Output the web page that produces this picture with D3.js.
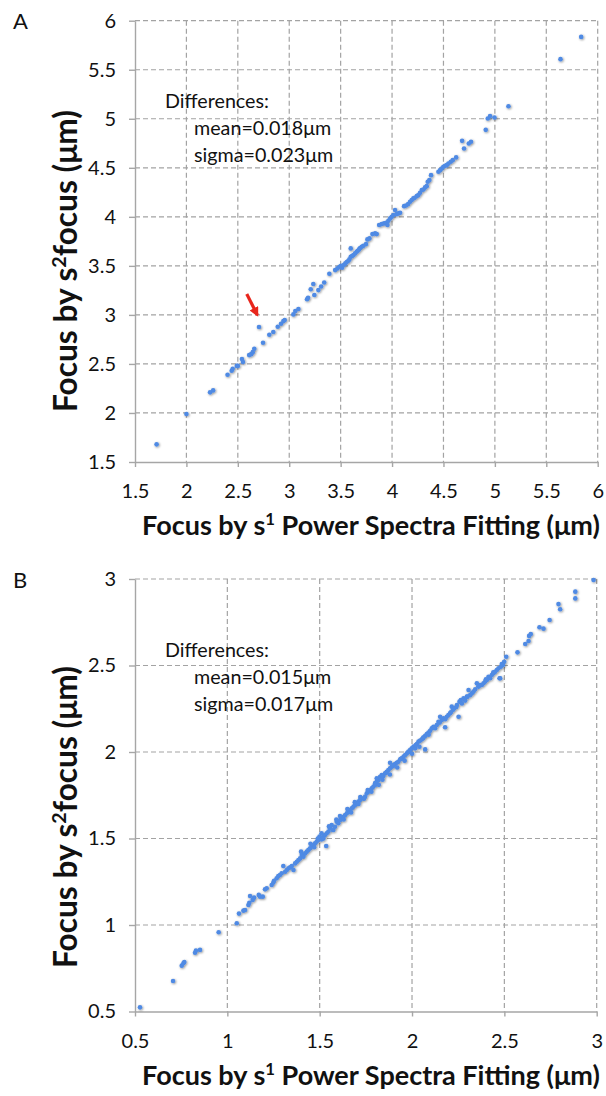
<!DOCTYPE html>
<html>
<head>
<meta charset="utf-8">
<script src="https://cdn.jsdelivr.net/npm/d3@7"></script>
<style>
  body { margin: 0; background: #fff; }
  svg { display: block; font-family: Lato, "Open Sans", sans-serif; }
</style>
</head>
<body>
<svg id="chart" width="606" height="1096"></svg>
<script>
// tick values
const ticksA = [1.5, 2, 2.5, 3, 3.5, 4, 4.5, 5, 5.5, 6];
const ticksB = [0.5, 1, 1.5, 2, 2.5, 3];

// annotation text
const notesA = ["Differences:", "mean=0.018\u03bcm", "sigma=0.023\u03bcm"];
const notesB = ["Differences:", "mean=0.015\u03bcm", "sigma=0.017\u03bcm"];

// panel A: [s1 fit, s2focus]
const pointsA = [
  [1.71,1.68],[2.00,1.99],[2.23,2.21],[2.26,2.23],[2.40,2.39],[2.44,2.43],[2.45,2.45],[2.49,2.48],
  [2.50,2.48],[2.54,2.55],[2.55,2.52],[2.61,2.59],[2.63,2.60],[2.645,2.62],[2.66,2.655],[2.706,2.876],
  [2.745,2.716],[2.806,2.798],[2.845,2.825],[2.888,2.879],[2.92,2.91],[2.943,2.937],[2.956,2.947],
  [3.04,3.005],[3.059,3.039],[3.089,3.06],[3.173,3.159],[3.183,3.175],[3.209,3.261],[3.234,3.315],
  [3.244,3.203],[3.283,3.253],[3.31,3.29],[3.34,3.33],
  [3.390,3.420],[3.446,3.457],[3.468,3.474],[3.488,3.491],[3.504,3.501],[3.514,3.481],[3.533,3.511],
  [3.546,3.525],[3.559,3.539],[3.575,3.552],[3.585,3.566],[3.598,3.678],[3.598,3.593],[3.611,3.600],
  [3.624,3.610],[3.640,3.627],[3.656,3.644],[3.666,3.654],[3.679,3.668],[3.689,3.681],[3.705,3.695],
  [3.721,3.705],[3.747,3.722],[3.760,3.770],[3.780,3.780],[3.809,3.824],[3.835,3.831],[3.851,3.824],
  [3.874,3.916],[3.899,3.926],[3.922,3.933],[3.942,3.940],[3.955,3.916],[3.964,3.960],[3.981,3.984],
  [3.997,4.001],[4.013,4.018],[4.029,4.069],[4.045,4.028],[4.062,4.035],[4.078,4.042],[4.117,4.109],
  [4.136,4.116],[4.156,4.130],[4.175,4.154],[4.191,4.171],[4.207,4.188],[4.220,4.194],[4.240,4.211],
  [4.256,4.222],[4.272,4.245],[4.289,4.273],[4.305,4.279],[4.321,4.300],[4.337,4.313],[4.347,4.358],
  [4.363,4.375],[4.379,4.425],[4.451,4.459],[4.467,4.476],[4.483,4.493],[4.499,4.510],[4.516,4.521],
  [4.532,4.527],[4.548,4.544],[4.571,4.561],[4.590,4.578],[4.623,4.606],[4.681,4.775],[4.700,4.697],
  [4.746,4.748],[4.768,4.765],
  [4.911,4.887],[4.931,5.003],[4.953,5.027],[4.996,5.013],[5.132,5.128],[5.638,5.608],[5.839,5.835]
];

// panel B: [s1 fit, s2focus]
const pointsB = [
  [0.527,0.524],[0.706,0.676],[0.753,0.765],[0.762,0.779],[0.767,0.786],[0.825,0.840],[0.830,0.852],
  [0.852,0.856],[0.953,0.958],[1.051,1.010],[1.063,1.066],[1.087,1.083],[1.096,1.087],[1.114,1.116],
  [1.119,1.129],[1.123,1.168],[1.137,1.145],[1.145,1.158],[1.170,1.174],[1.177,1.164],[1.192,1.164],
  [1.204,1.206],[1.213,1.212],[1.240,1.231],[1.249,1.245],[1.253,1.256],[1.267,1.270],[1.276,1.283],
  [1.285,1.289],[1.294,1.299],[1.303,1.341],[1.313,1.308],[1.322,1.318],[1.331,1.328],[1.340,1.333],
  [1.358,1.318],[1.349,1.341],[1.367,1.356],[1.376,1.366],[1.385,1.376],[1.394,1.385],[1.399,1.424],
  [1.403,1.405],[1.412,1.395],[1.421,1.414],[1.430,1.424],[1.439,1.434],[1.448,1.443],[1.457,1.457],
  [1.466,1.462],[1.475,1.472],[1.484,1.482],[1.493,1.491],[1.499,1.511],[1.511,1.495],[1.520,1.511],
  [1.529,1.520],[1.535,1.457],[1.538,1.530],[1.547,1.540],[1.556,1.559],[1.565,1.578],[1.574,1.549],
  [1.583,1.568],[1.592,1.597],[1.601,1.588],[1.611,1.607],[1.620,1.617],[1.629,1.626],[1.638,1.636],
  [1.647,1.646],[1.656,1.665],[1.665,1.655],[1.674,1.674],[1.683,1.684],[1.692,1.694],[1.701,1.703],
  [1.710,1.713],[1.719,1.723],[1.737,1.732],[1.746,1.742],[1.755,1.761],[1.764,1.771],[1.773,1.780],
  [1.782,1.790],[1.791,1.800],[1.800,1.809],[1.809,1.829],[1.818,1.838],
  [1.809,1.848],[1.827,1.857],[1.836,1.867],[1.845,1.861],[1.854,1.877],[1.863,1.886],[1.872,1.896],
  [1.881,1.906],[1.881,1.938],[1.890,1.915],[1.899,1.925],[1.908,1.931],[1.917,1.938],[1.926,1.944],
  [1.936,1.958],[1.945,1.963],[1.954,1.973],[1.963,1.983],[1.972,1.992],[1.981,2.002],[1.990,2.012],
  [1.999,2.021],[2.008,2.031],[2.017,2.021],[2.026,2.046],[2.035,2.060],[2.044,2.066],[2.053,2.073],
  [2.062,2.085],[2.071,2.015],[2.071,2.093],[2.080,2.104],[2.089,2.112],[2.098,2.123],[2.107,2.137],
  [2.116,2.146],[2.125,2.137],[2.134,2.156],[2.143,2.175],[2.152,2.204],[2.161,2.185],[2.170,2.195],
  [2.179,2.143],[2.188,2.204],[2.197,2.214],[2.206,2.224],[2.215,2.262],[2.221,2.243],[2.228,2.252],
  [2.243,2.272],[2.252,2.204],[2.257,2.291],[2.264,2.301],[2.270,2.281],[2.279,2.310],[2.288,2.297],
  [2.297,2.320],[2.306,2.358],[2.315,2.329],[2.324,2.339],[2.333,2.349],[2.342,2.362],[2.351,2.397],
  [2.360,2.378],[2.369,2.387],[2.378,2.387],[2.387,2.397],[2.396,2.407],[2.405,2.416],[2.414,2.435],
  [2.423,2.426],[2.432,2.445],[2.441,2.455],[2.450,2.464],[2.459,2.474],[2.468,2.484],[2.477,2.426],
  [2.481,2.493],[2.492,2.503],[2.499,2.522],[2.510,2.551],[2.486,2.509],[2.474,2.426],
  [2.571,2.576],[2.613,2.624],[2.631,2.642],[2.634,2.671],[2.643,2.682],[2.690,2.721],[2.712,2.713],
  [2.745,2.763],[2.793,2.855],[2.802,2.825],[2.884,2.888],[2.884,2.927],[2.983,2.994],
  [1.45,1.47],[1.47,1.45],[1.49,1.50],[1.51,1.53],[1.52,1.50],[1.55,1.57],[1.57,1.55],[1.59,1.61],
  [1.61,1.63],[1.63,1.61],[1.65,1.67],[1.67,1.65],[1.69,1.71],[1.71,1.70],[1.72,1.74],[1.74,1.73],
  [1.76,1.78],[1.78,1.77],[1.80,1.82],[1.82,1.81],[1.84,1.84],[1.86,1.88],[1.88,1.87],[1.90,1.92],
  [1.92,1.91],[1.94,1.96],[1.96,1.95],[1.98,2.00],[2.00,1.99],[2.02,2.04],[2.04,2.03],[2.06,2.08],
  [2.09,2.10],[2.12,2.14],[2.15,2.17],[2.18,2.19],[2.21,2.23],[2.24,2.26],[2.30,2.32],[2.36,2.38],
  [2.40,2.42],[2.44,2.46]
];

// red arrow in panel A, data coords: tail then tip
const arrowA = [[2.587, 3.213], [2.690, 2.998]];

const svg = d3.select("#chart");

const defs = svg.append("defs");
const shadow = defs.append("filter").attr("id", "shadow")
  .attr("x", "-50%").attr("y", "-50%").attr("width", "200%").attr("height", "200%");
shadow.append("feDropShadow")
  .attr("dx", 0.8).attr("dy", 0.8).attr("stdDeviation", 1.1)
  .attr("flood-color", "#000").attr("flood-opacity", 0.45);

defs.append("marker")
  .attr("id", "head")
  .attr("viewBox", "0 0 10 10")
  .attr("refX", 8).attr("refY", 5)
  .attr("markerWidth", 3).attr("markerHeight", 3)
  .attr("markerUnits", "strokeWidth")
  .attr("orient", "auto")
  .append("path")
  .attr("d", "M0,0 L10,5 L0,10 z")
  .attr("fill", "#e8261c");

// scale font so text spans a given width
function fit(sel, target) {
  const size = parseFloat(sel.attr("font-size"));
  const len = sel.node().getComputedTextLength();
  sel.attr("font-size", size * target / len);
}

function drawPanel(cfg) {
  const x = d3.scaleLinear().domain(cfg.domain).range([135, cfg.right]);
  const y = d3.scaleLinear().domain(cfg.domain).range([cfg.bottom, cfg.top]);
  const g = svg.append("g");

  // dashed grid
  const inner = cfg.ticks.slice(1);
  g.append("g").selectAll("line").data(inner).join("line")
    .attr("x1", d => x(d)).attr("x2", d => x(d))
    .attr("y1", cfg.top).attr("y2", cfg.bottom);
  g.append("g").selectAll("line").data(inner).join("line")
    .attr("x1", 135).attr("x2", cfg.right)
    .attr("y1", d => y(d)).attr("y2", d => y(d));
  g.selectAll("line")
    .attr("stroke", "#a3a3a3")
    .attr("stroke-width", 1.2)
    .attr("stroke-dasharray", "5,3");

  // axes
  const xAxis = g.append("g")
    .attr("transform", `translate(0,${cfg.bottom})`)
    .call(d3.axisBottom(x).tickValues(cfg.ticks).tickSizeInner(5).tickSizeOuter(0).tickPadding(17)
      .tickFormat(d3.format("~g")));
  const yAxis = g.append("g")
    .attr("transform", "translate(135,0)")
    .call(d3.axisLeft(y).tickValues(cfg.ticks).tickSizeInner(6).tickSizeOuter(0).tickPadding(13)
      .tickFormat(d3.format("~g")));
  [xAxis, yAxis].forEach(a => {
    a.attr("font-size", null).attr("font-family", null);
    a.select(".domain").attr("stroke", "#a6a6a6").attr("stroke-width", 1.4);
    a.selectAll(".tick line").attr("stroke", "#a6a6a6").attr("stroke-width", 1.4);
    a.selectAll(".tick text")
      .attr("fill", "#111")
      .attr("font-family", "Lato, sans-serif")
      .attr("font-size", 20);
  });

  // points
  g.append("g").attr("filter", "url(#shadow)")
    .selectAll("circle").data(cfg.points).join("circle")
    .attr("cx", d => x(d[0]))
    .attr("cy", d => y(d[1]))
    .attr("r", 2.3)
    .attr("fill", "#4f8ae4");

  // stats note
  const note = g.append("g").attr("fill", "#111");
  const widths = [94, 144, 146];
  cfg.notes.forEach((t, i) => {
    note.append("text")
      .attr("x", i === 0 ? 165 : 194)
      .attr("y", cfg.noteY + i * 27)
      .attr("font-size", 20)
      .text(t);
  });
  const ratio = d3.mean(note.selectAll("text").nodes(), (n, i) => widths[i] / n.getComputedTextLength());
  note.selectAll("text").attr("font-size", 20 * ratio);

  // x title
  const xt = g.append("text")
    .attr("x", 371).attr("y", cfg.bottom + 73)
    .attr("text-anchor", "middle")
    .attr("font-weight", "bold")
    .attr("font-size", 24)
    .attr("fill", "#111");
  xt.append("tspan").text("Focus by s");
  xt.append("tspan").attr("baseline-shift", "super").attr("font-size", "0.62em").text("1");
  xt.append("tspan").text(" Power Spectra Fitting (\u03bcm)");
  fit(xt, 458);

  // y title
  const yt = g.append("text")
    .attr("transform", `translate(77,${cfg.yTitleY}) rotate(-90)`)
    .attr("text-anchor", "middle")
    .attr("font-weight", "bold")
    .attr("font-size", 28)
    .attr("fill", "#111");
  yt.append("tspan").text("Focus by s");
  yt.append("tspan").attr("baseline-shift", "super").attr("font-size", "0.62em").text("2");
  yt.append("tspan").text("focus (\u03bcm)");
  fit(yt, 302);

  // panel letter
  g.append("text")
    .attr("x", 13).attr("y", cfg.letterY)
    .attr("font-size", 22)
    .attr("fill", "#111")
    .text(cfg.letter);

  return { x, y, g };
}

const A = drawPanel({
  domain: [1.5, 6], ticks: ticksA, points: pointsA, notes: notesA,
  right: 597.7, top: 20.7, bottom: 462,
  noteY: 108, yTitleY: 261, letter: "A", letterY: 29
});

const B = drawPanel({
  domain: [0.5, 3], ticks: ticksB, points: pointsB, notes: notesB,
  right: 596.7, top: 579, bottom: 1011.5,
  noteY: 657, yTitleY: 817, letter: "B", letterY: 588
});

// red arrow pointing at the outlier
A.g.append("line")
  .attr("x1", A.x(arrowA[0][0])).attr("y1", A.y(arrowA[0][1]))
  .attr("x2", A.x(arrowA[1][0])).attr("y2", A.y(arrowA[1][1]))
  .attr("stroke", "#e8261c")
  .attr("stroke-width", 3.2)
  .attr("marker-end", "url(#head)");
</script>
</body>
</html>
